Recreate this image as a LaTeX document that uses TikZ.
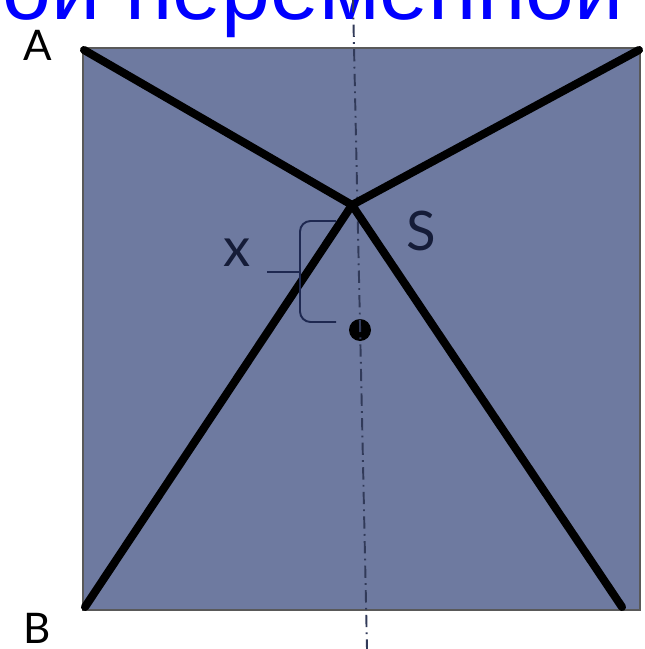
\documentclass[tikz,border=0pt]{standalone}
\usepackage{fontspec}
\setmainfont{Lato}
\newfontfamily\titlefont{Liberation Sans}
\usepackage{tikz}
\usetikzlibrary{positioning}
\definecolor{plate}{RGB}{110,122,160}
\definecolor{bracecol}{RGB}{30,40,80}
\tikzstyle{edge}  = [line width=4.6pt, line cap=round, draw=black]
\tikzstyle{axis}  = [line width=1.1pt, draw=bracecol!80!gray,
    dash pattern=on 7pt off 3pt on 1pt off 3pt]
\tikzstyle{label} = [inner sep=0pt, font=\fontsize{24}{24}\selectfont]

\begin{document}
\begin{tikzpicture}[x=0.02cm, y=-0.02cm]
    \useasboundingbox (0,0) rectangle (645,649);
    \clip (0,0) rectangle (645,649);
    % plate
    \fill[plate] (83,48) rectangle (640,610);
    \draw[gray!70!black, line width=0.6pt] (83,48) rectangle (640,610);
    % title, cut off at the top
    \node (title) [anchor=base east, inner sep=0pt, text=blue,
        font=\titlefont\fontsize{50}{50}\selectfont] at (624,19) {одной переменной};
    % points
    \coordinate (A)  at (84,50);
    \coordinate (TR) at (639,50);
    \coordinate (BL) at (85,607);
    \coordinate (BR) at (622,607);
    \coordinate (S)  at (352,205);
    \coordinate (axtop) at (353,0);
    \coordinate (axbot) at (367,649);
    \node (P) [circle, fill=black, inner sep=0pt, minimum size=0.44cm] at (360,330) {};
    % symmetry axis
    \draw [axis] (axtop) -- (axbot);
    % edges
    \draw [edge] (A)  -- (S);
    \draw [edge] (TR) -- (S);
    \draw [edge] (BL) -- (S);
    \draw [edge] (BR) -- (S);
    % brace for x
    \draw [bracecol, line width=1.1pt, rounded corners=6pt]
        (336,221) -- (300,221) -- (300,272) -- (300,322) -- (336,322);
    \draw [bracecol, line width=1.1pt] (267,272) -- (300,272);
    % labels
    \node (lA) [label] at (38,45)  {A};
    \node (lB) [label] at (37,628) {B};
    \node (lS) [label, font=\fontsize{31}{31}\selectfont, text=bracecol!70!black] at (421,231) {S};
    \node (lx) [label, font=\fontsize{31}{31}\selectfont, text=bracecol!70!black] at (237,253) {x};
\end{tikzpicture}
\end{document}
